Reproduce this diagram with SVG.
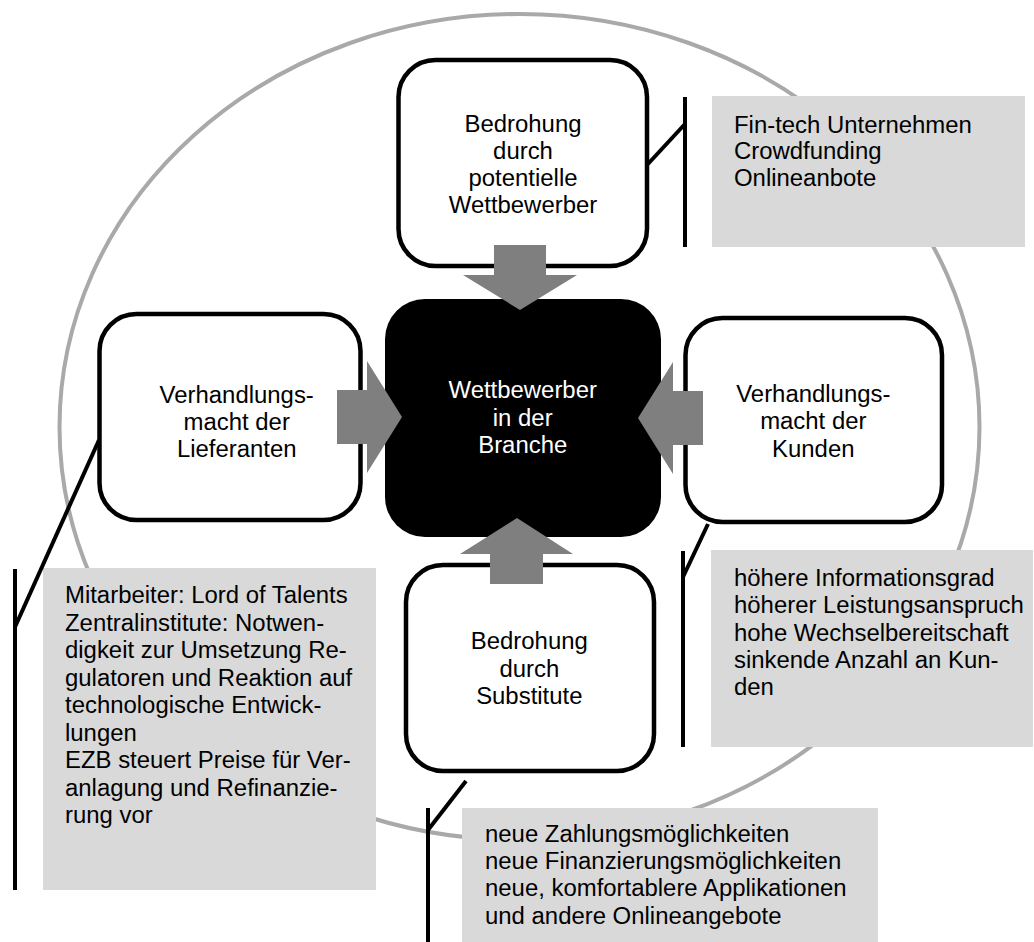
<svg xmlns="http://www.w3.org/2000/svg" width="1034" height="942" viewBox="0 0 1034 942">
<style>
.t{font-family:"Liberation Sans",Arial,sans-serif;font-size:23px;fill:#000}
.c{text-anchor:middle}
.w{fill:#fff}
.box{fill:#fff;stroke:#000;stroke-width:4.5}
.call{fill:#d9d9d9}
.arr{fill:#7f7f7f}
.ln{stroke:#000;stroke-width:4;fill:none}
</style>
<rect width="1034" height="942" fill="#fff"/>
<ellipse id="ring" cx="519.5" cy="427" rx="460" ry="413" fill="none" stroke="#a9a9a9" stroke-width="4"/>

<g id="note-top">
<rect class="call" x="712" y="96" width="313" height="151"/>
<text class="t" transform="translate(734,132.7) scale(1.04,1)"><tspan x="0" y="0">Fin-tech Unternehmen</tspan><tspan x="0" y="26.8">Crowdfunding</tspan><tspan x="0" y="53.5">Onlineanbote</tspan></text>
</g>
<g id="note-right">
<rect class="call" x="711" y="550" width="322" height="197"/>
<text class="t" transform="translate(734,586) scale(1.04,1)"><tspan x="0" y="0">höhere Informationsgrad</tspan><tspan x="0" y="27.3">höherer Leistungsanspruch</tspan><tspan x="0" y="54.6">hohe Wechselbereitschaft</tspan><tspan x="0" y="81.9">sinkende Anzahl an Kun-</tspan><tspan x="0" y="109.2">den</tspan></text>
</g>
<g id="note-left">
<rect class="call" x="43" y="568" width="333" height="322"/>
<text class="t" transform="translate(65,603.3) scale(1.04,1)"><tspan x="0" y="0">Mitarbeiter: Lord of Talents</tspan><tspan x="0" y="27.5">Zentralinstitute: Notwen-</tspan><tspan x="0" y="55">digkeit zur Umsetzung Re-</tspan><tspan x="0" y="82.5">gulatoren und Reaktion auf</tspan><tspan x="0" y="110">technologische Entwick-</tspan><tspan x="0" y="137.5">lungen</tspan><tspan x="0" y="165">EZB steuert Preise für Ver-</tspan><tspan x="0" y="192.5">anlagung und Refinanzie-</tspan><tspan x="0" y="220">rung vor</tspan></text>
</g>
<g id="note-bottom">
<rect class="call" x="462" y="808" width="416" height="134"/>
<text class="t" transform="translate(485,841.7) scale(1.04,1)"><tspan x="0" y="0">neue Zahlungsmöglichkeiten</tspan><tspan x="0" y="27.3">neue Finanzierungsmöglichkeiten</tspan><tspan x="0" y="54.6">neue, komfortablere Applikationen</tspan><tspan x="0" y="81.9">und andere Onlineangebote</tspan></text>
</g>

<g id="node-top">
<rect class="box" x="398.5" y="60" width="248.5" height="206" rx="37"/>
<text class="t c" transform="translate(523,132) scale(1.04,1)"><tspan x="0" y="0">Bedrohung</tspan><tspan x="0" y="27">durch</tspan><tspan x="0" y="54.5">potentielle</tspan><tspan x="0" y="81.5">Wettbewerber</tspan></text>
</g>
<g id="node-left">
<rect class="box" x="99.5" y="314" width="261" height="206" rx="37"/>
<text class="t c" transform="translate(236.7,403) scale(1.04,1)"><tspan x="0" y="0">Verhandlungs-</tspan><tspan x="0" y="27">macht der</tspan><tspan x="0" y="54">Lieferanten</tspan></text>
</g>
<g id="node-right">
<rect class="box" x="685.5" y="318" width="256.5" height="204" rx="37"/>
<text class="t c" transform="translate(813.3,402) scale(1.04,1)"><tspan x="0" y="0">Verhandlungs-</tspan><tspan x="0" y="27.5">macht der</tspan><tspan x="0" y="55">Kunden</tspan></text>
</g>
<g id="node-bottom">
<rect class="box" x="406" y="565" width="248" height="206" rx="37"/>
<text class="t c" transform="translate(529.3,649.3) scale(1.04,1)"><tspan x="0" y="0">Bedrohung</tspan><tspan x="0" y="27.3">durch</tspan><tspan x="0" y="54.6">Substitute</tspan></text>
</g>
<g id="node-center">
<rect x="385" y="299" width="276" height="238" rx="40" fill="#000"/>
<text class="t c w" transform="translate(522.7,398.3) scale(1.04,1)"><tspan x="0" y="0">Wettbewerber</tspan><tspan x="0" y="27.5">in der</tspan><tspan x="0" y="55">Branche</tspan></text>
</g>

<g id="connectors">
<polygon class="arr" points="494,245 546,245 546,275 577,275 520,310 463,275 494,275"/>
<polygon class="arr" points="337,390 367,390 367,361 402,417 367,473 367,444 337,444"/>
<polygon class="arr" points="703,391 673,391 673,362 638,418 673,474 673,445 703,445"/>
<polygon class="arr" points="490,584 490,554 460,554 517,518 573,554 543,554 543,584"/>
<line class="ln" x1="685" y1="97" x2="685" y2="247"/>
<line class="ln" x1="647" y1="165" x2="685" y2="124"/>
<line class="ln" x1="683" y1="551" x2="683" y2="747"/>
<line class="ln" x1="708" y1="524" x2="683" y2="577"/>
<line class="ln" x1="15" y1="569" x2="15" y2="890"/>
<line class="ln" x1="99" y1="440" x2="15" y2="627"/>
<line class="ln" x1="428" y1="808" x2="428" y2="942"/>
<line class="ln" x1="466" y1="781" x2="428" y2="830"/>
</g>
</svg>
